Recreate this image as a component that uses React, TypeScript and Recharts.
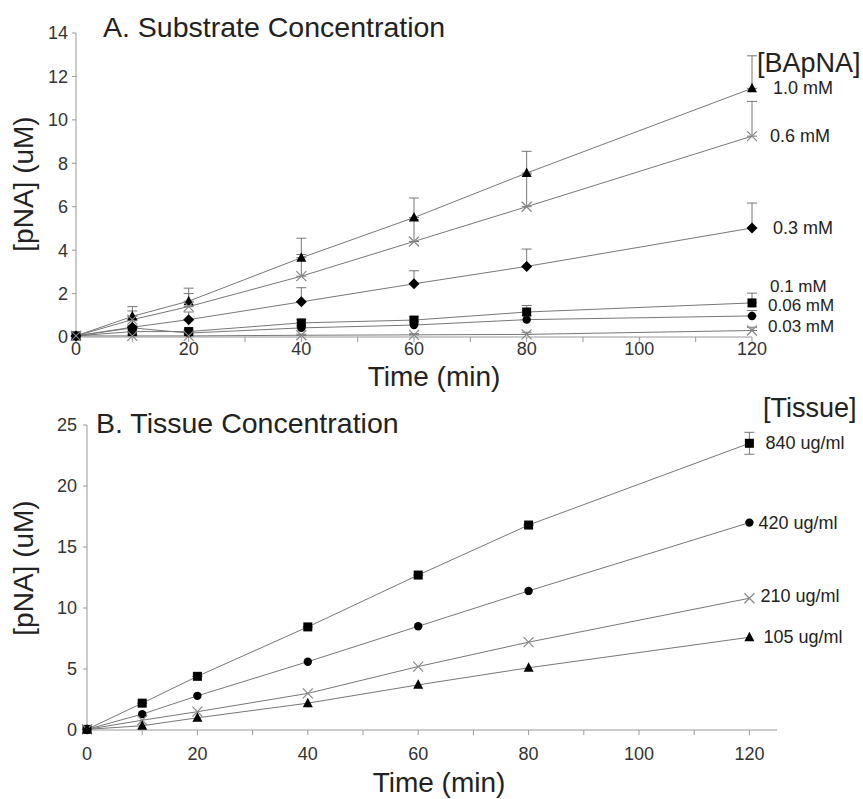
import React from "react";
import { LineChart, Line, XAxis, YAxis, ErrorBar, LabelList } from "recharts";

// Panel A: substrate concentration
const timesA = [0, 10, 20, 40, 60, 80, 120];
const a10 = [0.05, 0.95, 1.65, 3.65, 5.5, 7.55, 11.45];
const a10Err = [0, 0.45, 0.6, 0.9, 0.9, 1.0, 1.5];
const a06 = [0.05, 0.8, 1.4, 2.8, 4.4, 6.0, 9.25];
const a06Err = [0, 0.4, 0.6, 1.0, 1.0, 1.5, 1.6];
const a03 = [0.05, 0.45, 0.8, 1.62, 2.45, 3.25, 5.02];
const a03Err = [0, 0.3, 0.35, 0.65, 0.6, 0.8, 1.15];
const a01 = [0.05, 0.25, 0.25, 0.65, 0.78, 1.15, 1.57];
const a01Err = [0, 0.1, 0.1, 0.15, 0.15, 0.3, 0.45];
const a006 = [0.05, 0.42, 0.18, 0.42, 0.55, 0.8, 0.97];
const a006Err = [0, 0.1, 0.1, 0.1, 0.15, 0.2, 0.25];
const a003 = [0.05, 0.05, 0.05, 0.08, 0.1, 0.12, 0.3];
const a003Err = [0, 0.05, 0.05, 0.05, 0.05, 0.1, 0.15];
const labelsA = ["1.0 mM", "0.6 mM", "0.3 mM", "0.1 mM", "0.06 mM", "0.03 mM"];

// Panel B: tissue concentration
const timesB = [0, 10, 20, 40, 60, 80, 120];
const b840 = [0.05, 2.2, 4.4, 8.45, 12.7, 16.8, 23.5];
const b840Err = [0, 0, 0, 0, 0, 0, 0.9];
const b420 = [0.05, 1.3, 2.8, 5.6, 8.5, 11.4, 17.0];
const b210 = [0.05, 0.8, 1.5, 3.0, 5.2, 7.2, 10.8];
const b105 = [0.05, 0.35, 1.0, 2.2, 3.7, 5.1, 7.6];
const labelsB = ["840 ug/ml", "420 ug/ml", "210 ug/ml", "105 ug/ml"];

const ticksA = [0, 2, 4, 6, 8, 10, 12, 14];
const ticksB = [0, 5, 10, 15, 20, 25];
const timeTicks = [0, 10, 20, 30, 40, 50, 60, 70, 80, 90, 100, 110, 120];

const dataA = timesA.map((t, i) => ({
  t,
  a10: a10[i], e10: [0, a10Err[i]],
  a06: a06[i], e06: [0, a06Err[i]],
  a03: a03[i], e03: [0, a03Err[i]],
  a01: a01[i], e01: [0, a01Err[i]],
  a006: a006[i], e006: [0, a006Err[i]],
  a003: a003[i], e003: [0, a003Err[i]],
}));

const dataB = timesB.map((t, i) => ({
  t,
  b840: b840[i], e840: [b840Err[i], b840Err[i]],
  b420: b420[i],
  b210: b210[i],
  b105: b105[i],
}));

const FONT = "'Liberation Sans', Arial, sans-serif";
const LINE = "#777";
const AXIS = "#999";

function Marker({ shape, cx, cy }: { shape: string; cx: number; cy: number }) {
  if (shape === "triangle")
    return <polygon points={`${cx},${cy - 5.5} ${cx + 5},${cy + 4} ${cx - 5},${cy + 4}`} fill="#000" />;
  if (shape === "square")
    return <rect x={cx - 4.5} y={cy - 4.5} width={9} height={9} fill="#000" />;
  if (shape === "circle") return <circle cx={cx} cy={cy} r={4.2} fill="#000" />;
  if (shape === "diamond")
    return <polygon points={`${cx},${cy - 5.5} ${cx + 5.5},${cy} ${cx},${cy + 5.5} ${cx - 5.5},${cy}`} fill="#000" />;
  return (
    <path d={`M${cx - 5},${cy - 5}L${cx + 5},${cy + 5}M${cx - 5},${cy + 5}L${cx + 5},${cy - 5}`} stroke="#888" strokeWidth={1.2} />
  );
}

const dot = (shape: string) => (p: any) => {
  if (p.cx == null || p.cy == null) return <g key={p.key ?? p.index} />;
  return (
    <g key={`${shape}-${p.index}`}>
      <Marker shape={shape} cx={p.cx} cy={p.cy} />
    </g>
  );
};

const endLabel = (text: string, last: number, dx: number, dy: number, size: number) => (p: any) => {
  if (p.index !== last) return null;
  return (
    <text x={Number(p.x) + dx} y={Number(p.y) + dy} dominantBaseline="central" fontSize={size} fontFamily={FONT} fill="#222">
      {text}
    </text>
  );
};

const tickStyle = { fontSize: 18, fontFamily: FONT, fill: "#333" };
const fmt20 = (v: number) => (v % 20 === 0 ? String(v) : "");

const seriesA = [
  { key: "a10", err: "e10", shape: "triangle", dx: 21, dy: 0 },
  { key: "a06", err: "e06", shape: "x", dx: 18, dy: 0 },
  { key: "a03", err: "e03", shape: "diamond", dx: 21, dy: 0 },
  { key: "a01", err: "e01", shape: "square", dx: 18, dy: -16 },
  { key: "a006", err: "e006", shape: "circle", dx: 16, dy: -10 },
  { key: "a003", err: "e003", shape: "x", dx: 16, dy: -4 },
];

const seriesB = [
  { key: "b840", shape: "square", dx: 16, dy: 0 },
  { key: "b420", shape: "circle", dx: 9, dy: 0 },
  { key: "b210", shape: "x", dx: 11, dy: -2 },
  { key: "b105", shape: "triangle", dx: 14, dy: 0 },
];

export default function App() {
  return (
    <div style={{ position: "absolute", left: 0, top: 0, width: 863, height: 799, background: "#fff", overflow: "hidden" }}>
      <div style={{ position: "absolute", left: 0, top: 0 }}>
        <LineChart width={863} height={400} data={dataA} margin={{ top: 33, right: 111, bottom: 33, left: 26 }}>
          <XAxis
            dataKey="t"
            type="number"
            domain={[0, 120]}
            ticks={timeTicks}
            tickFormatter={fmt20}
            interval={0}
            height={30}
            tick={tickStyle}
            tickSize={5}
            tickMargin={0}
            stroke={AXIS}
          />
          <YAxis
            type="number"
            domain={[0, 14]}
            ticks={ticksA}
            interval={0}
            width={50}
            tick={tickStyle}
            tickSize={4}
            tickMargin={4}
            stroke={AXIS}
          />
          {seriesA.map((s, i) => (
            <Line
              key={s.key}
              dataKey={s.key}
              stroke={LINE}
              strokeWidth={1}
              dot={dot(s.shape)}
              activeDot={false}
              isAnimationActive={false}
            >
              <ErrorBar dataKey={s.err} direction="y" width={5} stroke={LINE} strokeWidth={1} />
              <LabelList dataKey={s.key} content={endLabel(labelsA[i], timesA.length - 1, s.dx, s.dy, i >= 3 ? 17 : 18)} />
            </Line>
          ))}
        </LineChart>
      </div>
      <div style={{ position: "absolute", left: 0, top: 400 }}>
        <LineChart width={863} height={399} data={dataB} margin={{ top: 25, right: 86, bottom: 39, left: 37 }}>
          <XAxis
            dataKey="t"
            type="number"
            domain={[0, 125]}
            ticks={timeTicks}
            tickFormatter={fmt20}
            interval={0}
            height={30}
            tick={tickStyle}
            tickSize={5}
            tickMargin={12}
            stroke={AXIS}
          />
          <YAxis
            type="number"
            domain={[0, 25]}
            ticks={ticksB}
            interval={0}
            width={50}
            tick={tickStyle}
            tickSize={4}
            tickMargin={6}
            stroke={AXIS}
          />
          {seriesB.map((s, i) => (
            <Line
              key={s.key}
              dataKey={s.key}
              stroke={LINE}
              strokeWidth={1}
              dot={dot(s.shape)}
              activeDot={false}
              isAnimationActive={false}
            >
              {s.key === "b840" && <ErrorBar dataKey="e840" direction="y" width={5} stroke={LINE} strokeWidth={1} />}
              <LabelList dataKey={s.key} content={endLabel(labelsB[i], timesB.length - 1, s.dx, s.dy, 18)} />
            </Line>
          ))}
        </LineChart>
      </div>
      <svg width={863} height={799} style={{ position: "absolute", left: 0, top: 0, pointerEvents: "none" }} fontFamily={FONT} fill="#222">
        <text x={103} y={37} fontSize={28.5}>A. Substrate Concentration</text>
        <text x={757} y={72} fontSize={27}>[BApNA]</text>
        <text transform="translate(33,184) rotate(-90)" textAnchor="middle" fontSize={28}>[pNA] (uM)</text>
        <text x={434} y={386} textAnchor="middle" fontSize={28}>Time (min)</text>
        <text x={96} y={433} fontSize={28.5}>B. Tissue Concentration</text>
        <text x={763} y={417} fontSize={27}>[Tissue]</text>
        <text transform="translate(33,568) rotate(-90)" textAnchor="middle" fontSize={28}>[pNA] (uM)</text>
        <text x={439} y={792} textAnchor="middle" fontSize={28}>Time (min)</text>
      </svg>
    </div>
  );
}
